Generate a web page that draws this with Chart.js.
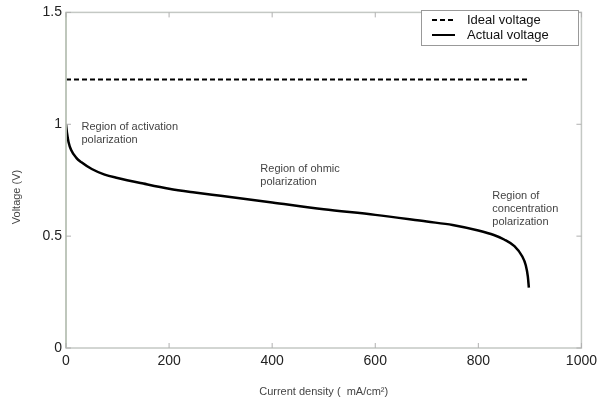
<!DOCTYPE html>
<html>
<head>
    <title>Fuel cell polarization curve</title>
    <script src="https://cdn.jsdelivr.net/npm/chart.js"></script>
    <style>
        body { margin: 0; background: #fff; }
        #wrap { width: 602px; height: 403px; }
    </style>
</head>
<body>
<div id="wrap"><canvas id="myChart" width="602" height="403"></canvas></div>
<script>
    // data
    const currentDensity = [0, 2, 5, 10, 20, 30, 50, 75, 100, 150, 200, 250, 300, 400, 500, 600, 700, 750, 800, 830, 850, 870, 885, 892, 896, 898];
    const actualVoltage = [1.00, 0.96, 0.92, 0.885, 0.85, 0.83, 0.80, 0.775, 0.76, 0.735, 0.712, 0.695, 0.68, 0.65, 0.62, 0.595, 0.565, 0.55, 0.525, 0.505, 0.485, 0.455, 0.41, 0.37, 0.32, 0.27];
    const idealX = [0, 900];
    const idealVoltage = [1.2, 1.2];
    const xTicks = [0, 200, 400, 600, 800, 1000];
    const yTicks = [0, 0.5, 1, 1.5];
    const regionNotes = [
        { x: 30, y: 0.99, lines: ['Region of activation', 'polarization'] },
        { x: 377, y: 0.80, lines: ['Region of ohmic', 'polarization'] },
        { x: 827, y: 0.68, lines: ['Region of', 'concentration', 'polarization'] }
    ];

    const FONT = '"Liberation Sans", Arial, sans-serif';

    // box, inward ticks, notes, legend and y title
    const decor = {
        id: 'decor',
        afterDatasetsDraw(chart) {
            const ctx = chart.ctx;
            const a = chart.chartArea;
            const xs = chart.scales.x, ys = chart.scales.y;
            ctx.save();
            ctx.lineWidth = 1.5;
            ctx.strokeStyle = '#c4c8c4';
            ctx.strokeRect(a.left, a.top, a.right - a.left, a.bottom - a.top);
            ctx.strokeStyle = '#b9c2b4';
            ctx.beginPath(); ctx.moveTo(a.left, a.top); ctx.lineTo(a.left, a.bottom); ctx.stroke();
            ctx.lineWidth = 1;
            ctx.strokeStyle = '#b0b0b0';
            xTicks.forEach(v => {
                const px = xs.getPixelForValue(v);
                ctx.beginPath();
                ctx.moveTo(px, a.bottom); ctx.lineTo(px, a.bottom - 5);
                ctx.moveTo(px, a.top); ctx.lineTo(px, a.top + 5);
                ctx.stroke();
            });
            yTicks.forEach(v => {
                const py = ys.getPixelForValue(v);
                ctx.beginPath();
                ctx.moveTo(a.left, py); ctx.lineTo(a.left + 5, py);
                ctx.moveTo(a.right, py); ctx.lineTo(a.right - 5, py);
                ctx.stroke();
            });

            ctx.fillStyle = '#444';
            ctx.font = '11px ' + FONT;
            ctx.textBaseline = 'middle';
            ctx.textAlign = 'left';
            regionNotes.forEach(n => {
                const px = xs.getPixelForValue(n.x);
                const py = ys.getPixelForValue(n.y);
                n.lines.forEach((t, i) => ctx.fillText(t, px, py + i * 13));
            });

            // legend
            const lx = 421, ly = 10, lw = 157, lh = 35;
            ctx.fillStyle = '#fff';
            ctx.fillRect(lx, ly, lw, lh);
            ctx.strokeStyle = '#999';
            ctx.lineWidth = 1;
            ctx.strokeRect(lx + 0.5, ly + 0.5, lw, lh);
            chart.data.datasets.forEach((ds, i) => {
                const yy = ly + 10 + i * 15;
                ctx.strokeStyle = '#000';
                ctx.lineWidth = 2;
                ctx.setLineDash(ds.borderDash || []);
                ctx.beginPath(); ctx.moveTo(lx + 11, yy); ctx.lineTo(lx + 34, yy); ctx.stroke();
                ctx.setLineDash([]);
                ctx.fillStyle = '#111';
                ctx.font = '13px ' + FONT;
                ctx.fillText(ds.label, lx + 46, yy);
            });

            // y title
            ctx.translate(17, 197);
            ctx.rotate(-Math.PI / 2);
            ctx.textAlign = 'center';
            ctx.fillStyle = '#444';
            ctx.font = '11px ' + FONT;
            ctx.fillText('Voltage (V)', 0, 0);
            ctx.restore();
        }
    };

    const ctx = document.getElementById('myChart').getContext('2d');
    new Chart(ctx, {
        type: 'scatter',
        data: {
            datasets: [{
                label: 'Ideal voltage',
                data: idealX.map((x, i) => ({ x: x, y: idealVoltage[i] })),
                showLine: true,
                borderColor: '#000',
                borderWidth: 2,
                borderDash: [5, 3],
                pointRadius: 0
            }, {
                label: 'Actual voltage',
                data: currentDensity.map((x, i) => ({ x: x, y: actualVoltage[i] })),
                showLine: true,
                borderColor: '#000',
                borderWidth: 2.5,
                cubicInterpolationMode: 'monotone',
                pointRadius: 0
            }]
        },
        options: {
            responsive: false,
            animation: false,
            layout: { padding: { top: 7, right: 19, left: 0, bottom: 0 } },
            plugins: { legend: { display: false }, tooltip: { enabled: false } },
            scales: {
                x: {
                    type: 'linear', min: 0, max: 1000,
                    afterBuildTicks: s => { s.ticks = xTicks.map(v => ({ value: v })); },
                    afterFit: s => { s.height = 55; },
                    grid: { display: false, drawTicks: false },
                    border: { display: false },
                    ticks: { padding: 5, color: '#222', font: { family: FONT, size: 14 }, maxRotation: 0, callback: v => String(v) },
                    title: { display: true, text: 'Current density (  mA/cm\u00b2)', color: '#444', font: { family: FONT, size: 11 }, padding: { top: 13 } }
                },
                y: {
                    type: 'linear', min: 0, max: 1.5,
                    afterBuildTicks: s => { s.ticks = yTicks.map(v => ({ value: v })); },
                    afterFit: s => { s.width = 66; },
                    grid: { display: false, drawTicks: false },
                    border: { display: false },
                    ticks: { padding: 4, color: '#222', font: { family: FONT, size: 14 }, callback: v => String(v) }
                }
            }
        },
        plugins: [decor]
    });
</script>
</body>
</html>
